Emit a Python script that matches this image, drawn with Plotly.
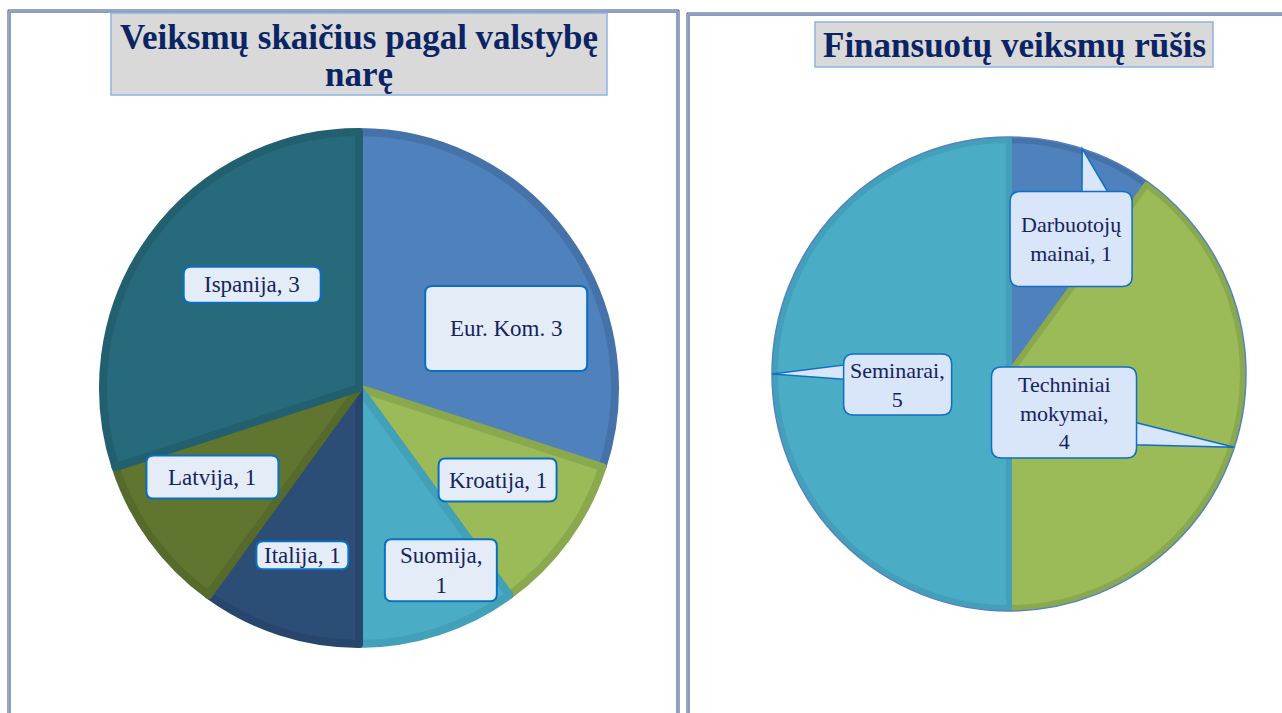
import math
import plotly.graph_objects as go

W, H = 1282, 713

# ---------------- data ----------------
left_title_lines = ["Veiksmų skaičius pagal valstybę", "narę"]
left_labels = ["Eur. Kom.", "Kroatija", "Suomija", "Italija", "Latvija", "Ispanija"]
left_values = [3, 1, 1, 1, 1, 3]
left_sep = [" ", ", ", ",<br>", ", ", ", ", ", "]

right_title = "Finansuotų veiksmų rūšis"
right_labels = ["Darbuotojų mainai", "Techniniai mokymai", "Seminarai"]
right_values = [1, 4, 5]
right_label_wrap = ["Darbuotojų<br>mainai", "Techniniai<br>mokymai", "Seminarai"]
right_sep = [", ", ",<br>", ",<br>"]

# ---------------- style ----------------
left_colors = ["#4F81BD", "#9BBB59", "#4BACC6", "#2C4D75", "#5F7530", "#276A7C"]
left_edges = ["#4672AA", "#8AA94F", "#43A0B9", "#28466C", "#566A2B", "#226070"]
right_colors = ["#4F81BD", "#9BBB59", "#4BACC6"]
right_edges = ["#4672AA", "#8AA94F", "#44A0BA"]

SERIF = "Liberation Serif"
TXT = "#16245C"
TITLE_C = "#0B2463"

# pie geometry (pixels)
LCX, LCY, LR, LW = 359, 388, 256, 8
RCX, RCY, RR, RW = 1009, 374, 234, 6

# label placement: (radius fraction, angle nudge deg, box w, box h)
left_place = [(0.62, 14, 162, 85), (0.65, -2.4, 118, 43), (0.78, -6.2, 112, 62),
              (0.69, 0.7, 92, 28), (0.67, 4.7, 132, 43), (0.58, 8, 137, 36)]
right_place = [(0.635, 6.7, 122, 95), (0.287, 17, 145, 91), (0.478, -5.4, 108, 61)]
# callout wedge: (shift along box edge, half width at box edge)
right_wedge = [(19, 14), (6, 11.5), (-8, 7.5)]


def X(px):
    return px / W


def Y(py):
    return 1 - py / H


def mid_angles(values):
    tot = sum(values)
    out, c = [], 0
    for v in values:
        out.append((c + v / 2) / tot * 360)
        c += v
    return out


def polar(cx, cy, r, ang):
    a = math.radians(ang)
    return cx + r * math.sin(a), cy - r * math.cos(a)


def rrect(cx, cy, w, h, r):
    x0, x1, y0, y1 = cx - w / 2, cx + w / 2, cy - h / 2, cy + h / 2
    pts = [
        ("M", x0 + r, y0), ("L", x1 - r, y0), ("Q", x1, y0, x1, y0 + r),
        ("L", x1, y1 - r), ("Q", x1, y1, x1 - r, y1), ("L", x0 + r, y1),
        ("Q", x0, y1, x0, y1 - r), ("L", x0, y0 + r), ("Q", x0, y0, x0 + r, y0),
    ]
    s = ""
    for p in pts:
        cmd = p[0]
        nums = p[1:]
        coords = []
        for i in range(0, len(nums), 2):
            coords.append(f"{X(nums[i]):.5f},{Y(nums[i + 1]):.5f}")
        s += cmd + " " + " ".join(coords) + " "
    return s + "Z"


fig = go.Figure()

fig.add_trace(go.Pie(
    labels=left_labels, values=left_values, sort=False, direction="clockwise",
    rotation=0, textinfo="none", hoverinfo="label+value", showlegend=False,
    marker=dict(colors=left_colors, line=dict(color=left_edges, width=LW)),
    domain=dict(x=[X(LCX - LR), X(LCX + LR)], y=[Y(LCY + LR), Y(LCY - LR)]),
))
fig.add_trace(go.Pie(
    labels=right_labels, values=right_values, sort=False, direction="clockwise",
    rotation=0, textinfo="none", hoverinfo="label+value", showlegend=False,
    marker=dict(colors=right_colors, line=dict(color=right_edges, width=RW)),
    domain=dict(x=[X(RCX - RR), X(RCX + RR)], y=[Y(RCY + RR), Y(RCY - RR)]),
))

shapes = []
annotations = []


def frame(x0, y0, x1, y1):
    shapes.append(dict(type="rect", xref="paper", yref="paper", x0=X(x0), x1=X(x1),
                       y0=Y(y1), y1=Y(y0), line=dict(color="#2E4B7E", width=1),
                       fillcolor="rgba(0,0,0,0)", layer="below"))
    shapes.append(dict(type="rect", xref="paper", yref="paper", x0=X(x0 + 2), x1=X(x1 - 2),
                       y0=Y(y1), y1=Y(y0 + 2), line=dict(color="#8C9DC2", width=2),
                       fillcolor="rgba(0,0,0,0)", layer="below"))


frame(8, 10, 679, 760)
frame(687, 13, 1330, 760)


def title_box(x0, y0, x1, y1):
    shapes.append(dict(type="rect", xref="paper", yref="paper", x0=X(x0), x1=X(x1),
                       y0=Y(y1), y1=Y(y0), line=dict(color="#8DB3E2", width=1.5),
                       fillcolor="#D9D9D9", layer="below"))


title_box(111, 13, 607, 95)
title_box(815, 22, 1213, 67)
for i, line in enumerate(left_title_lines):
    annotations.append(dict(text=line, xref="paper", yref="paper", x=X(359), y=Y(37 + 38 * i),
                            xanchor="center", yanchor="middle", showarrow=False,
                            font=dict(family=SERIF, size=35, color=TITLE_C, weight="bold")))
annotations.append(dict(text=right_title, xref="paper", yref="paper", x=X(1014), y=Y(45),
                        xanchor="center", yanchor="middle", showarrow=False,
                        font=dict(family=SERIF, size=35, color=TITLE_C, weight="bold")))

# right pie outline
ro = RR + RW / 2
shapes.append(dict(type="circle", xref="paper", yref="paper",
                   x0=X(RCX - ro), x1=X(RCX + ro), y0=Y(RCY + ro), y1=Y(RCY - ro),
                   line=dict(color="#5383BE", width=1.5), fillcolor="rgba(0,0,0,0)"))

# left labels
for lab, v, sep, ang, (rf, dth, bw, bh) in zip(left_labels, left_values, left_sep,
                                               mid_angles(left_values), left_place):
    cx, cy = polar(LCX, LCY, rf * LR, ang + dth)
    shapes.append(dict(type="path", xref="paper", yref="paper", path=rrect(cx, cy, bw, bh, 7),
                       fillcolor="#E4ECF7", line=dict(color="#0B6FC1", width=2)))
    annotations.append(dict(text=f"{lab}{sep}{v}", xref="paper", yref="paper", x=X(cx), y=Y(cy),
                            xanchor="center", yanchor="middle", showarrow=False,
                            font=dict(family=SERIF, size=23, color=TXT)))

# right labels with callout wedges pointing to each slice's mid-angle
for lab, v, sep, ang, (rf, dth, bw, bh), (sh, hw) in zip(
        right_label_wrap, right_values, right_sep, mid_angles(right_values),
        right_place, right_wedge):
    cx, cy = polar(RCX, RCY, rf * RR, ang + dth)
    tx, ty = polar(RCX, RCY, ro, ang)
    dx, dy = tx - cx, ty - cy
    tx_e = (bw / 2) / abs(dx) if dx else 1e9
    ty_e = (bh / 2) / abs(dy) if dy else 1e9
    inset = 4
    if tx_e < ty_e:
        ex = cx + math.copysign(bw / 2 - inset, dx)
        ey = cy + dy * tx_e + sh
        b1, b2 = (ex, ey - hw), (ex, ey + hw)
    else:
        ey = cy + math.copysign(bh / 2 - inset, dy)
        ex = cx + dx * ty_e + sh
        b1, b2 = (ex - hw, ey), (ex + hw, ey)
    wpath = (f"M {X(tx):.5f},{Y(ty):.5f} L {X(b1[0]):.5f},{Y(b1[1]):.5f} "
             f"L {X(b2[0]):.5f},{Y(b2[1]):.5f} Z")
    shapes.append(dict(type="path", xref="paper", yref="paper", path=wpath,
                       fillcolor="#D9E5F8", line=dict(color="#0E6FC5", width=1.5)))
    shapes.append(dict(type="path", xref="paper", yref="paper", path=rrect(cx, cy, bw, bh, 10),
                       fillcolor="#D9E5F8", line=dict(color="#0E6FC5", width=1.5)))
    annotations.append(dict(text=f"{lab}{sep}{v}", xref="paper", yref="paper", x=X(cx), y=Y(cy),
                            xanchor="center", yanchor="middle", showarrow=False,
                            font=dict(family=SERIF, size=22, color=TXT)))

fig.update_layout(
    width=W, height=H, margin=dict(l=0, r=0, t=0, b=0),
    paper_bgcolor="white", plot_bgcolor="white",
    shapes=shapes, annotations=annotations,
)

fig.write_html("out.html")
